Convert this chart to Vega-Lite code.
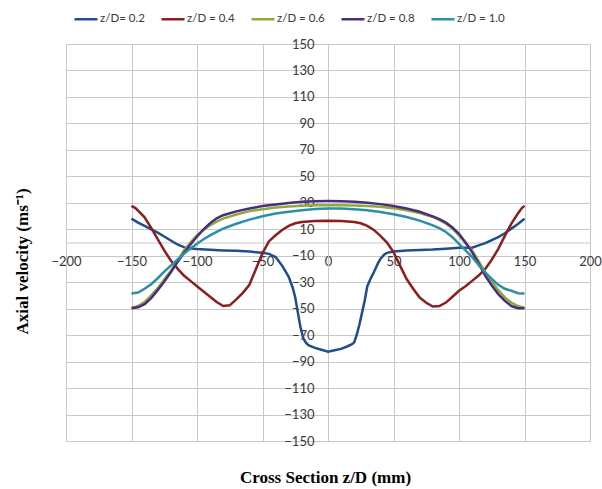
{
  "$schema": "https://vega.github.io/schema/vega-lite/v6.json",
  "width": 524,
  "height": 397,
  "autosize": "none",
  "padding": {"left": 66, "top": 44, "right": 12, "bottom": 48},
  "background": "white",
  "config": {"view": {"stroke": null}, "font": "Lato"},
  "data": {"values": [
    {"s":"z/D= 0.2","x":-150,"v":18},{"s":"z/D= 0.2","x":-145,"v":15},{"s":"z/D= 0.2","x":-140,"v":12.5},{"s":"z/D= 0.2","x":-135,"v":10},{"s":"z/D= 0.2","x":-130,"v":7.5},{"s":"z/D= 0.2","x":-125,"v":4.5},{"s":"z/D= 0.2","x":-120,"v":1.5},{"s":"z/D= 0.2","x":-115,"v":-1.5},{"s":"z/D= 0.2","x":-110,"v":-3.5},{"s":"z/D= 0.2","x":-105,"v":-4.5},{"s":"z/D= 0.2","x":-100,"v":-5},{"s":"z/D= 0.2","x":-90,"v":-5.5},{"s":"z/D= 0.2","x":-80,"v":-6},{"s":"z/D= 0.2","x":-70,"v":-6.3},{"s":"z/D= 0.2","x":-60,"v":-6.8},{"s":"z/D= 0.2","x":-55,"v":-7.3},{"s":"z/D= 0.2","x":-50,"v":-7.8},{"s":"z/D= 0.2","x":-45,"v":-8.6},{"s":"z/D= 0.2","x":-40,"v":-11},{"s":"z/D= 0.2","x":-35,"v":-17.5},{"s":"z/D= 0.2","x":-30,"v":-26},{"s":"z/D= 0.2","x":-27,"v":-34},{"s":"z/D= 0.2","x":-25,"v":-41.5},{"s":"z/D= 0.2","x":-23,"v":-53},{"s":"z/D= 0.2","x":-21,"v":-64},{"s":"z/D= 0.2","x":-19,"v":-72},{"s":"z/D= 0.2","x":-17,"v":-75.5},{"s":"z/D= 0.2","x":-15,"v":-77.6},{"s":"z/D= 0.2","x":-10,"v":-79.6},{"s":"z/D= 0.2","x":-5,"v":-81},{"s":"z/D= 0.2","x":0,"v":-82.5},{"s":"z/D= 0.2","x":5,"v":-81.4},{"s":"z/D= 0.2","x":10,"v":-80.4},{"s":"z/D= 0.2","x":15,"v":-78.4},{"s":"z/D= 0.2","x":18,"v":-77},{"s":"z/D= 0.2","x":20,"v":-75.5},{"s":"z/D= 0.2","x":22,"v":-69.5},{"s":"z/D= 0.2","x":24,"v":-62},{"s":"z/D= 0.2","x":26,"v":-53},{"s":"z/D= 0.2","x":28,"v":-44},{"s":"z/D= 0.2","x":30,"v":-33},{"s":"z/D= 0.2","x":33,"v":-26.3},{"s":"z/D= 0.2","x":35,"v":-22.5},{"s":"z/D= 0.2","x":38,"v":-16},{"s":"z/D= 0.2","x":40,"v":-12.4},{"s":"z/D= 0.2","x":43,"v":-9},{"s":"z/D= 0.2","x":45,"v":-7.8},{"s":"z/D= 0.2","x":50,"v":-6.8},{"s":"z/D= 0.2","x":60,"v":-6},{"s":"z/D= 0.2","x":70,"v":-5.6},{"s":"z/D= 0.2","x":80,"v":-5.3},{"s":"z/D= 0.2","x":90,"v":-4.7},{"s":"z/D= 0.2","x":100,"v":-4},{"s":"z/D= 0.2","x":105,"v":-4},{"s":"z/D= 0.2","x":110,"v":-4},{"s":"z/D= 0.2","x":115,"v":-2.2},{"s":"z/D= 0.2","x":120,"v":-0.5},{"s":"z/D= 0.2","x":125,"v":1.8},{"s":"z/D= 0.2","x":130,"v":4.1},{"s":"z/D= 0.2","x":135,"v":7},{"s":"z/D= 0.2","x":140,"v":10.5},{"s":"z/D= 0.2","x":145,"v":14},{"s":"z/D= 0.2","x":150,"v":18},
    {"s":"z/D = 0.4","x":-150,"v":27.7},{"s":"z/D = 0.4","x":-147,"v":26},{"s":"z/D = 0.4","x":-145,"v":24},{"s":"z/D = 0.4","x":-140,"v":19},{"s":"z/D = 0.4","x":-135,"v":11},{"s":"z/D = 0.4","x":-130,"v":2.5},{"s":"z/D = 0.4","x":-125,"v":-6},{"s":"z/D = 0.4","x":-120,"v":-13.6},{"s":"z/D = 0.4","x":-115,"v":-19.5},{"s":"z/D = 0.4","x":-110,"v":-25},{"s":"z/D = 0.4","x":-105,"v":-29},{"s":"z/D = 0.4","x":-100,"v":-33},{"s":"z/D = 0.4","x":-95,"v":-37},{"s":"z/D = 0.4","x":-90,"v":-41},{"s":"z/D = 0.4","x":-85,"v":-45},{"s":"z/D = 0.4","x":-80,"v":-48},{"s":"z/D = 0.4","x":-75,"v":-47.5},{"s":"z/D = 0.4","x":-70,"v":-43},{"s":"z/D = 0.4","x":-65,"v":-38},{"s":"z/D = 0.4","x":-60,"v":-32},{"s":"z/D = 0.4","x":-55,"v":-20},{"s":"z/D = 0.4","x":-50,"v":-8},{"s":"z/D = 0.4","x":-45,"v":1},{"s":"z/D = 0.4","x":-40,"v":5.5},{"s":"z/D = 0.4","x":-35,"v":9.5},{"s":"z/D = 0.4","x":-30,"v":12.5},{"s":"z/D = 0.4","x":-25,"v":14.5},{"s":"z/D = 0.4","x":-20,"v":15.5},{"s":"z/D = 0.4","x":-10,"v":16.3},{"s":"z/D = 0.4","x":0,"v":16.5},{"s":"z/D = 0.4","x":10,"v":16.3},{"s":"z/D = 0.4","x":20,"v":15.5},{"s":"z/D = 0.4","x":25,"v":14.5},{"s":"z/D = 0.4","x":30,"v":12.5},{"s":"z/D = 0.4","x":35,"v":9.5},{"s":"z/D = 0.4","x":40,"v":5},{"s":"z/D = 0.4","x":45,"v":0},{"s":"z/D = 0.4","x":50,"v":-7.3},{"s":"z/D = 0.4","x":55,"v":-17.5},{"s":"z/D = 0.4","x":60,"v":-27.6},{"s":"z/D = 0.4","x":65,"v":-35},{"s":"z/D = 0.4","x":70,"v":-41.6},{"s":"z/D = 0.4","x":75,"v":-45.5},{"s":"z/D = 0.4","x":80,"v":-48.4},{"s":"z/D = 0.4","x":85,"v":-48},{"s":"z/D = 0.4","x":90,"v":-45.4},{"s":"z/D = 0.4","x":95,"v":-41},{"s":"z/D = 0.4","x":100,"v":-36.5},{"s":"z/D = 0.4","x":105,"v":-33},{"s":"z/D = 0.4","x":110,"v":-29},{"s":"z/D = 0.4","x":115,"v":-25},{"s":"z/D = 0.4","x":120,"v":-20},{"s":"z/D = 0.4","x":125,"v":-13},{"s":"z/D = 0.4","x":130,"v":-4.8},{"s":"z/D = 0.4","x":135,"v":5},{"s":"z/D = 0.4","x":140,"v":14.3},{"s":"z/D = 0.4","x":145,"v":22},{"s":"z/D = 0.4","x":148,"v":26},{"s":"z/D = 0.4","x":150,"v":27.7},
    {"s":"z/D = 0.6","x":-150,"v":-49.5},{"s":"z/D = 0.6","x":-145,"v":-48},{"s":"z/D = 0.6","x":-140,"v":-45},{"s":"z/D = 0.6","x":-135,"v":-40},{"s":"z/D = 0.6","x":-130,"v":-34.5},{"s":"z/D = 0.6","x":-125,"v":-28},{"s":"z/D = 0.6","x":-120,"v":-21.5},{"s":"z/D = 0.6","x":-115,"v":-14},{"s":"z/D = 0.6","x":-110,"v":-6},{"s":"z/D = 0.6","x":-105,"v":0},{"s":"z/D = 0.6","x":-100,"v":5.5},{"s":"z/D = 0.6","x":-95,"v":9.5},{"s":"z/D = 0.6","x":-90,"v":13},{"s":"z/D = 0.6","x":-85,"v":15.8},{"s":"z/D = 0.6","x":-80,"v":18},{"s":"z/D = 0.6","x":-70,"v":21.2},{"s":"z/D = 0.6","x":-60,"v":23.7},{"s":"z/D = 0.6","x":-50,"v":25.2},{"s":"z/D = 0.6","x":-40,"v":26.4},{"s":"z/D = 0.6","x":-30,"v":27.2},{"s":"z/D = 0.6","x":-20,"v":27.7},{"s":"z/D = 0.6","x":-10,"v":28.1},{"s":"z/D = 0.6","x":0,"v":28.2},{"s":"z/D = 0.6","x":10,"v":28.1},{"s":"z/D = 0.6","x":20,"v":28},{"s":"z/D = 0.6","x":30,"v":27.6},{"s":"z/D = 0.6","x":40,"v":27},{"s":"z/D = 0.6","x":50,"v":25.8},{"s":"z/D = 0.6","x":60,"v":24.4},{"s":"z/D = 0.6","x":70,"v":22.3},{"s":"z/D = 0.6","x":80,"v":19.3},{"s":"z/D = 0.6","x":85,"v":17},{"s":"z/D = 0.6","x":90,"v":14.3},{"s":"z/D = 0.6","x":95,"v":10.5},{"s":"z/D = 0.6","x":100,"v":5.4},{"s":"z/D = 0.6","x":105,"v":-0.5},{"s":"z/D = 0.6","x":110,"v":-6},{"s":"z/D = 0.6","x":115,"v":-14},{"s":"z/D = 0.6","x":120,"v":-22.5},{"s":"z/D = 0.6","x":125,"v":-29.5},{"s":"z/D = 0.6","x":130,"v":-36},{"s":"z/D = 0.6","x":135,"v":-41.5},{"s":"z/D = 0.6","x":140,"v":-45.4},{"s":"z/D = 0.6","x":145,"v":-48},{"s":"z/D = 0.6","x":150,"v":-49.2},
    {"s":"z/D = 0.8","x":-150,"v":-49.7},{"s":"z/D = 0.8","x":-145,"v":-49},{"s":"z/D = 0.8","x":-140,"v":-46.6},{"s":"z/D = 0.8","x":-135,"v":-42},{"s":"z/D = 0.8","x":-130,"v":-36},{"s":"z/D = 0.8","x":-125,"v":-29.5},{"s":"z/D = 0.8","x":-120,"v":-22.5},{"s":"z/D = 0.8","x":-115,"v":-15},{"s":"z/D = 0.8","x":-110,"v":-8},{"s":"z/D = 0.8","x":-105,"v":-1.5},{"s":"z/D = 0.8","x":-100,"v":4.5},{"s":"z/D = 0.8","x":-95,"v":10},{"s":"z/D = 0.8","x":-90,"v":14.5},{"s":"z/D = 0.8","x":-85,"v":18.3},{"s":"z/D = 0.8","x":-80,"v":20.6},{"s":"z/D = 0.8","x":-70,"v":23.5},{"s":"z/D = 0.8","x":-60,"v":25.7},{"s":"z/D = 0.8","x":-50,"v":27.5},{"s":"z/D = 0.8","x":-40,"v":28.7},{"s":"z/D = 0.8","x":-30,"v":29.8},{"s":"z/D = 0.8","x":-20,"v":30.8},{"s":"z/D = 0.8","x":-10,"v":31.2},{"s":"z/D = 0.8","x":0,"v":31.3},{"s":"z/D = 0.8","x":10,"v":31.2},{"s":"z/D = 0.8","x":20,"v":30.8},{"s":"z/D = 0.8","x":30,"v":30},{"s":"z/D = 0.8","x":40,"v":29},{"s":"z/D = 0.8","x":50,"v":27.6},{"s":"z/D = 0.8","x":60,"v":25.7},{"s":"z/D = 0.8","x":70,"v":23.2},{"s":"z/D = 0.8","x":80,"v":19.8},{"s":"z/D = 0.8","x":85,"v":17.6},{"s":"z/D = 0.8","x":90,"v":15},{"s":"z/D = 0.8","x":95,"v":11.3},{"s":"z/D = 0.8","x":100,"v":6.6},{"s":"z/D = 0.8","x":105,"v":0},{"s":"z/D = 0.8","x":110,"v":-7.3},{"s":"z/D = 0.8","x":115,"v":-16},{"s":"z/D = 0.8","x":120,"v":-25},{"s":"z/D = 0.8","x":125,"v":-32.5},{"s":"z/D = 0.8","x":130,"v":-39},{"s":"z/D = 0.8","x":135,"v":-44},{"s":"z/D = 0.8","x":140,"v":-48},{"s":"z/D = 0.8","x":145,"v":-49.7},{"s":"z/D = 0.8","x":150,"v":-49.7},
    {"s":"z/D = 1.0","x":-150,"v":-38.5},{"s":"z/D = 1.0","x":-145,"v":-37.8},{"s":"z/D = 1.0","x":-140,"v":-35},{"s":"z/D = 1.0","x":-135,"v":-31.5},{"s":"z/D = 1.0","x":-130,"v":-27},{"s":"z/D = 1.0","x":-125,"v":-22},{"s":"z/D = 1.0","x":-120,"v":-17.5},{"s":"z/D = 1.0","x":-115,"v":-13},{"s":"z/D = 1.0","x":-110,"v":-8.6},{"s":"z/D = 1.0","x":-105,"v":-4.5},{"s":"z/D = 1.0","x":-100,"v":-1},{"s":"z/D = 1.0","x":-95,"v":2.5},{"s":"z/D = 1.0","x":-90,"v":5.4},{"s":"z/D = 1.0","x":-85,"v":8},{"s":"z/D = 1.0","x":-80,"v":10.5},{"s":"z/D = 1.0","x":-70,"v":14.2},{"s":"z/D = 1.0","x":-60,"v":17.3},{"s":"z/D = 1.0","x":-50,"v":19.8},{"s":"z/D = 1.0","x":-40,"v":21.9},{"s":"z/D = 1.0","x":-30,"v":23.3},{"s":"z/D = 1.0","x":-20,"v":24.4},{"s":"z/D = 1.0","x":-10,"v":25.3},{"s":"z/D = 1.0","x":0,"v":25.7},{"s":"z/D = 1.0","x":10,"v":25.6},{"s":"z/D = 1.0","x":20,"v":25.2},{"s":"z/D = 1.0","x":30,"v":24.3},{"s":"z/D = 1.0","x":40,"v":23.1},{"s":"z/D = 1.0","x":50,"v":21.4},{"s":"z/D = 1.0","x":60,"v":19.3},{"s":"z/D = 1.0","x":70,"v":16.5},{"s":"z/D = 1.0","x":80,"v":13},{"s":"z/D = 1.0","x":85,"v":10.8},{"s":"z/D = 1.0","x":90,"v":8},{"s":"z/D = 1.0","x":95,"v":4},{"s":"z/D = 1.0","x":100,"v":-1},{"s":"z/D = 1.0","x":105,"v":-6},{"s":"z/D = 1.0","x":110,"v":-11},{"s":"z/D = 1.0","x":115,"v":-17},{"s":"z/D = 1.0","x":120,"v":-22.5},{"s":"z/D = 1.0","x":125,"v":-27.5},{"s":"z/D = 1.0","x":130,"v":-32},{"s":"z/D = 1.0","x":135,"v":-35},{"s":"z/D = 1.0","x":140,"v":-36.5},{"s":"z/D = 1.0","x":145,"v":-38.3},{"s":"z/D = 1.0","x":150,"v":-38.5}
  ]},
  "mark": {"type": "line", "strokeWidth": 2.5},
  "encoding": {
    "x": {
      "field": "x", "type": "quantitative",
      "scale": {"domain": [-200, 200], "nice": false, "zero": false},
      "axis": {
        "title": "Cross Section z/D (mm)",
        "values": [-200, -150, -100, -50, 0, 50, 100, 150, 200],
        "offset": -198.5,
        "tickSize": 0, "ticks": false,
        "labelPadding": 13, "labelFontSize": 13, "labelColor": "#3a3a3a", "labelFont": "Lato",
        "labelFlush": false,
        "domainColor": "#c8c8c8", "grid": true, "gridColor": "#c8c8c8",
        "titleFont": "Liberation Serif", "titleFontSize": 17, "titleFontWeight": "bold", "titleColor": "#000000",
        "titleX": 259, "titleY": 234.5, "titleAlign": "center", "titleBaseline": "middle"
      }
    },
    "y": {
      "field": "v", "type": "quantitative",
      "scale": {"domain": [-150, 150], "nice": false, "zero": false},
      "axis": {
        "title": "Axial velocity (ms⁻¹)",
        "values": [-150, -130, -110, -90, -70, -50, -30, -10, 10, 30, 50, 70, 90, 110, 130, 150],
        "offset": -262,
        "tickSize": 0, "ticks": false,
        "labelPadding": 14, "labelFontSize": 13, "labelColor": "#3a3a3a", "labelFont": "Lato",
        "labelFlush": false,
        "domainColor": "#c8c8c8", "grid": true, "gridColor": "#c8c8c8",
        "titleFont": "Liberation Serif", "titleFontSize": 17, "titleFontWeight": "bold", "titleColor": "#000000",
        "titleAngle": -90, "titleX": -306, "titleY": 217, "titleAlign": "center", "titleBaseline": "middle"
      }
    },
    "color": {
      "field": "s", "type": "nominal",
      "scale": {
        "domain": ["z/D= 0.2", "z/D = 0.4", "z/D = 0.6", "z/D = 0.8", "z/D = 1.0"],
        "range": ["#1f4e8a", "#8b1e1e", "#8eaa3c", "#4b2c7e", "#2b8fa8"]
      },
      "legend": {
        "title": null, "orient": "none", "direction": "horizontal",
        "legendX": 7, "legendY": -38,
        "symbolType": "stroke", "symbolSize": 529, "symbolStrokeWidth": 2.5,
        "labelFontSize": 11.5, "labelColor": "#3a3a3a", "labelFont": "Lato", "labelOffset": 1,
        "columnPadding": 11
      }
    }
  }
}
